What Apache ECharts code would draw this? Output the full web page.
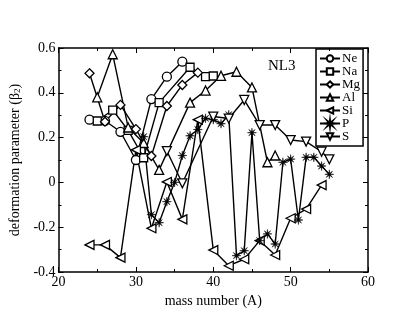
<!DOCTYPE html>
<html>
<head>
<meta charset="utf-8">
<script src="https://cdn.jsdelivr.net/npm/echarts@6/dist/echarts.min.js"></script>
<style>
  html, body { margin: 0; padding: 0; background: #fff; }
  #chart { width: 415px; height: 321px; }
</style>
</head>
<body>
<div id="chart"></div>
<script>
// mass numbers and beta2 values
const neA = [24, 26, 28, 30, 32, 34, 36];
const neB = [0.28, 0.275, 0.226, 0.10, 0.372, 0.472, 0.539];
const naA = [25, 27, 29, 31, 33, 37, 39, 40];
const naB = [0.274, 0.323, 0.232, 0.11, 0.356, 0.514, 0.472, 0.475];
const mgA = [24, 26, 28, 30, 32, 34, 36, 38];
const mgB = [0.487, 0.271, 0.346, 0.238, 0.118, 0.341, 0.435, 0.49];
const alA = [25, 27, 29, 31, 33, 37, 39, 41, 43, 45, 47, 48];
const alB = [0.38, 0.572, 0.245, 0.176, 0.056, 0.356, 0.41, 0.476, 0.494, 0.424, 0.09, 0.12];
const siA = [24, 26, 28, 30, 32, 34, 36, 38, 40, 42, 44, 46, 48, 50, 52, 54];
const siB = [-0.279, -0.279, -0.336, 0.145, -0.205, 0.002, -0.165, 0.28, -0.302, -0.372, -0.343, -0.26, -0.324, -0.16, -0.119, -0.012];
const pA = [31, 32, 33, 34, 35, 36, 37, 38, 39, 40, 41, 42, 43, 44, 45, 46, 47, 48, 49, 50, 51, 52, 53, 54, 55];
const pB = [0.204, -0.144, -0.18, -0.086, 0.0, 0.12, 0.208, 0.236, 0.286, 0.28, 0.262, 0.302, -0.327, -0.305, 0.222, -0.26, -0.23, -0.275, 0.09, 0.104, -0.168, 0.112, 0.112, 0.073, 0.036];
const sA = [34, 36, 40, 42, 44, 46, 48, 50, 52, 54, 55];
const sB = [0.14, -0.004, 0.294, 0.285, 0.368, 0.256, 0.256, 0.189, 0.182, 0.137, 0.103];

const xTicks = [20, 30, 40, 50, 60];
const yTicks = [-0.4, -0.2, 0, 0.2, 0.4, 0.6];

// asterisk marker: 8 pointed star
let star = "path://";
for (let i = 0; i < 16; i++) {
  const r = i % 2 === 0 ? 10 : 2.6;
  const a = (Math.PI * i) / 8;
  star += (i === 0 ? "M" : "L") + (r * Math.cos(a)).toFixed(2) + " " + (r * Math.sin(a)).toFixed(2);
}
star += "Z";

const font = "Liberation Serif";

const mk = (name, xs, ys, symbol, rotate, size, filled) => ({
  name: name,
  type: "line",
  data: xs.map((x, i) => [x, ys[i]]),
  symbol: symbol,
  symbolSize: size,
  symbolRotate: rotate,
  showSymbol: true,
  lineStyle: { color: "#000", width: 1.4 },
  itemStyle: {
    color: filled ? "#000" : "#fff",
    borderColor: "#000",
    borderWidth: filled ? 0.5 : 1.3,
  },
  emphasis: { disabled: true },
  z: 3,
});

const tickStyle = { inside: true, length: 5, lineStyle: { color: "#000" } };
const minorStyle = { show: true, splitNumber: 2, length: 3, lineStyle: { color: "#000" } };
const lineStyle = { onZero: false, lineStyle: { color: "#000", width: 1.5 } };

const chart = echarts.init(document.getElementById("chart"));
chart.setOption({
  animation: false,
  title: {
    text: "NL3",
    left: 263,
    top: 54,
    textStyle: { fontFamily: font, fontSize: 15, fontWeight: "normal", color: "#000" },
  },
  legend: {
    orient: "vertical",
    left: 316,
    top: 49,
    padding: [3, 3, 3, 3],
    borderColor: "#000",
    borderWidth: 1.5,
    itemWidth: 20,
    itemHeight: 8,
    itemGap: 0,
    textStyle: { fontFamily: font, fontSize: 13, lineHeight: 12.5, color: "#000", padding: [0, 0, 0, -3] },
    data: ["Ne", "Na", "Mg", "Al", "Si", "P", "S"],
  },
  grid: { left: 48, right: 47, top: 48, bottom: 49 },
  xAxis: [
    {
      type: "value",
      min: 20,
      max: 60,
      interval: 10,
      name: "mass number (A)",
      nameLocation: "middle",
      nameGap: 19,
      nameTextStyle: { fontFamily: font, fontSize: 14, color: "#000" },
      axisLine: lineStyle,
      axisTick: tickStyle,
      minorTick: minorStyle,
      splitLine: { show: false },
      axisLabel: { fontFamily: font, fontSize: 14, color: "#000", margin: 3 },
    },
    {
      type: "value",
      position: "top",
      min: 20,
      max: 60,
      interval: 10,
      axisLine: lineStyle,
      axisTick: tickStyle,
      minorTick: minorStyle,
      splitLine: { show: false },
      axisLabel: { show: false },
    },
  ],
  yAxis: [
    {
      type: "value",
      min: -0.4,
      max: 0.6,
      interval: 0.2,
      name: "deformation parameter (β{sub|2})",
      nameLocation: "middle",
      nameGap: 28,
      nameTextStyle: {
        fontFamily: font,
        fontSize: 14,
        color: "#000",
        rich: { sub: { fontFamily: font, fontSize: 9, verticalAlign: "bottom", padding: [6, 0, 0, 0] } },
      },
      axisLine: lineStyle,
      axisTick: tickStyle,
      minorTick: minorStyle,
      splitLine: { show: false },
      axisLabel: {
        fontFamily: font,
        fontSize: 14,
        color: "#000",
        margin: 3,
        formatter: (v) => (Math.abs(v) < 1e-9 ? "0" : String(Math.round(v * 10) / 10)),
      },
    },
    {
      type: "value",
      position: "right",
      min: -0.4,
      max: 0.6,
      interval: 0.2,
      axisLine: lineStyle,
      axisTick: tickStyle,
      minorTick: minorStyle,
      splitLine: { show: false },
      axisLabel: { show: false },
    },
  ],
  series: [
    mk("Ne", neA, neB, "circle", 0, 9, false),
    mk("Na", naA, naB, "rect", 0, 8, false),
    mk("Mg", mgA, mgB, "diamond", 0, 9, false),
    mk("Al", alA, alB, "triangle", 0, 9, false),
    mk("Si", siA, siB, "triangle", 90, 9, false),
    mk("P", pA, pB, star, 0, 9, true),
    mk("S", sA, sB, "triangle", 180, 9, false),
  ],
});
</script>
</body>
</html>
